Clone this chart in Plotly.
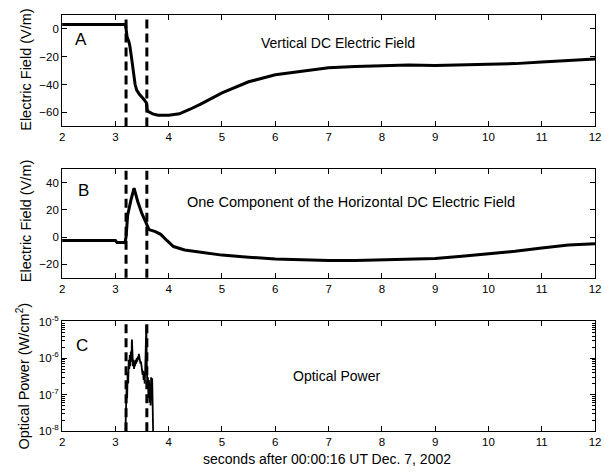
import plotly.graph_objects as go

# ---------------- data ----------------
t_a = [2.0, 3.0, 3.19, 3.2, 3.22, 3.25, 3.27, 3.3, 3.33, 3.37, 3.4, 3.45, 3.52, 3.58, 3.59,
       3.6, 3.7, 3.8, 4.0, 4.2, 4.4, 4.6, 5.0, 5.5, 6.0, 6.5, 7.0, 7.5, 8.0, 8.5, 9.0,
       9.5, 10.0, 10.5, 11.0, 11.5, 12.0]
e_vert = [3, 3, 3, 0, -6, -9, -12, -20, -30, -40, -44, -47, -50, -53, -56,
          -59, -61, -62, -62, -61, -57.7, -54, -46, -38, -33, -30.3, -28, -27, -26.3, -26, -26.3,
          -26, -25.6, -25, -23.8, -22.8, -21.7]

t_b = [2.0, 2.5, 3.0, 3.03, 3.18, 3.2, 3.23, 3.29, 3.35, 3.42, 3.5, 3.57, 3.6, 3.63, 3.75,
       3.85, 3.97, 4.09, 4.3, 4.6, 5.0, 5.5, 6.0, 6.5, 7.0, 7.5, 8.0, 8.5, 9.0, 9.5,
       10.0, 10.5, 11.0, 11.5, 12.0]
e_horiz = [-2.5, -2.5, -2.5, -4, -4, 0, 16, 27, 36, 26, 17, 11, 8, 5.5, 4,
           2, -2.7, -7, -9.5, -11, -13.3, -14.8, -16.1, -16.8, -17.3, -17.2, -16.8, -16.3, -15.7, -14.2,
           -12.5, -10.5, -8, -5.8, -5]

t_c = [3.17, 3.19, 3.20, 3.21, 3.22, 3.23, 3.24, 3.25, 3.26, 3.27, 3.28, 3.29, 3.30, 3.31,
       3.32, 3.33, 3.34, 3.35, 3.36, 3.37, 3.38, 3.39, 3.40, 3.41, 3.42, 3.43, 3.44, 3.45,
       3.46, 3.47, 3.48, 3.49, 3.50, 3.51, 3.52, 3.53, 3.54, 3.55, 3.56, 3.57, 3.58, 3.59,
       3.60, 3.61, 3.62, 3.63, 3.64, 3.65, 3.66, 3.67, 3.68, 3.69, 3.70, 3.71, 3.72]
p_opt = [1e-9, 1e-8, 3e-8, 1.5e-7, 8e-8, 4e-7, 2e-7, 9e-7, 5e-7, 1.2e-6, 6e-7, 1.5e-6, 8e-7, 3.2e-6,
         1.1e-6, 6e-7, 9e-7, 5e-7, 8e-7, 6e-7, 9e-7, 7e-7, 1e-6, 8e-7, 1.1e-6, 9e-7, 1.3e-6, 1e-6,
         1.1e-6, 7e-7, 8e-7, 5e-7, 6e-7, 3.5e-7, 4.5e-7, 2.5e-7, 4e-7, 2e-7, 5e-7, 1.5e-6, 8e-6, 6e-7,
         1.5e-7, 3e-7, 8e-8, 2.5e-7, 6e-8, 2e-7, 5e-8, 3e-7, 7e-8, 2.8e-7, 4e-8, 1e-8, 1e-9]

event_times = [3.2, 3.59]
x_ticks = [2, 3, 4, 5, 6, 7, 8, 9, 10, 11, 12]
log_tickvals = [1e-8, 1e-7, 1e-6, 1e-5]
log_ticktext = ["10<sup>-8</sup>", "10<sup>-7</sup>", "10<sup>-6</sup>", "10<sup>-5</sup>"]
log_minor = [m * 10.0 ** e for e in (-8, -7, -6) for m in range(2, 10)]

# ---------------- figure ----------------
FONT = "Liberation Sans, Arial, Helvetica, sans-serif"
W, H = 605, 475
fig = go.Figure()

fig.add_trace(go.Scatter(x=t_a, y=e_vert, mode="lines", line=dict(color="black", width=3),
                         xaxis="x", yaxis="y", showlegend=False))
fig.add_trace(go.Scatter(x=t_b, y=e_horiz, mode="lines", line=dict(color="black", width=3),
                         xaxis="x2", yaxis="y2", showlegend=False))
fig.add_trace(go.Scatter(x=t_c, y=p_opt, mode="lines", line=dict(color="black", width=1.8),
                         xaxis="x3", yaxis="y3", showlegend=False))

xd = [60 / W, 601 / W]


def pdom(top, bottom):
    return [1 - bottom / H, 1 - top / H]


common_x = dict(range=[2, 12], tickvals=x_ticks, ticks="inside", ticklen=5, showline=True,
                mirror="allticks", linecolor="black", linewidth=1, showgrid=False, zeroline=False,
                ticklabeloverflow="allow",
                tickfont=dict(family=FONT, size=11.5, color="black"), domain=xd, tickcolor="black")
common_y = dict(ticks="inside", ticklen=5, showline=True, mirror="allticks", linecolor="black",
                linewidth=1, showgrid=False, zeroline=False, tickcolor="black",
                tickfont=dict(family=FONT, size=11.5, color="black"))

fig.update_layout(
    width=W, height=H, margin=dict(l=0, r=0, t=0, b=0),
    paper_bgcolor="white", plot_bgcolor="white",
    font=dict(family=FONT, color="black"),
    xaxis=dict(common_x, anchor="y"),
    yaxis=dict(common_y, range=[-70, 10], tickvals=[-60, -40, -20, 0], domain=pdom(7, 122), anchor="x"),
    xaxis2=dict(common_x, anchor="y2"),
    yaxis2=dict(common_y, range=[-30, 50], tickvals=[-20, 0, 20, 40], domain=pdom(166, 278), anchor="x2"),
    xaxis3=dict(common_x, anchor="y3"),
    yaxis3=dict(common_y, type="log", range=[-8, -5], tickvals=log_tickvals, ticktext=log_ticktext,
                minor=dict(ticks="inside", ticklen=3, tickcolor="black", showgrid=False,
                           tickvals=log_minor),
                domain=pdom(323, 436), anchor="x3"),
)

# dashed event lines
for ax in ["", "2", "3"]:
    for t in event_times:
        fig.add_shape(type="line", x0=t, x1=t, y0=0, y1=1, xref="x" + ax, yref=("y" + ax) + " domain",
                      line=dict(color="black", width=3, dash="9px,5px"))

annots = [
    dict(x=79, y=32, text="A", size=17),
    dict(x=82, y=188, text="B", size=17),
    dict(x=80, y=348, text="C", size=17),
    dict(x=340, y=36, text="Vertical DC Electric Field", size=14),
    dict(x=353, y=200, text="One Component of the Horizontal DC Electric Field", size=14.5),
    dict(x=339, y=379, text="Optical Power", size=14),
    dict(x=329, y=465, text="seconds after 00:00:16 UT Dec. 7, 2002", size=14),
]
for a in annots:
    fig.add_annotation(x=a["x"] / W, y=1 - a["y"] / H, xref="paper", yref="paper", text=a["text"],
                       showarrow=False, font=dict(family=FONT, size=a["size"], color="black"),
                       xanchor="center", yanchor="middle")

ytitles = [
    dict(x=23, y=64, text="Electric Field (V/m)"),
    dict(x=23, y=220, text="Electric Field (V/m)"),
    dict(x=20, y=379, text="Optical Power (W/cm<sup>2</sup>)"),
]
for a in ytitles:
    fig.add_annotation(x=a["x"] / W, y=1 - a["y"] / H, xref="paper", yref="paper", text=a["text"],
                       showarrow=False, textangle=-90, font=dict(family=FONT, size=14.5, color="black"),
                       xanchor="center", yanchor="middle")

fig.write_html("out.html")
